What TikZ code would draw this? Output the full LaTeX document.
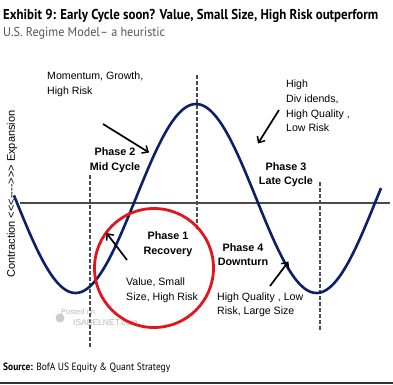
\documentclass[tikz,border=0pt]{standalone}
\usepackage{fontspec}
\setmainfont{Liberation Sans}
\newfontfamily\ttlfont{PT Sans}
\usetikzlibrary{arrows.meta}
\definecolor{navy}{HTML}{0B1F6B}
\definecolor{cred}{HTML}{E4141C}
\definecolor{axisgray}{HTML}{4A4A4A}
\definecolor{subgray}{HTML}{555555}
\tikzset{
  lbl/.style={inner sep=0pt, align=left, font=\fontsize{10.6}{15}\selectfont},
  phase/.style={inner sep=0pt, align=center, font=\fontsize{10.8}{15}\selectfont\bfseries},
  pointer/.style={line width=1.7pt, -{Straight Barb[length=5pt,width=9pt,line width=1.5pt]}},
  guide/.style={axisgray, line width=1.3pt, dash pattern=on 3.5pt off 2.5pt},
  curvestyle/.style={navy, line width=2.6pt},
  wm/.style={inner sep=0pt, text=gray!55}
}
\begin{document}
\begin{tikzpicture}[x=1pt,y=-1pt]
\useasboundingbox (0,0) rectangle (393,384);
\fill[white] (0,0) rectangle (393,384);

% titles
\node[anchor=base west, inner sep=0pt] (title) at (3,19.3)
  {\resizebox{375pt}{\height}{\ttlfont\bfseries\fontsize{14.3}{16}\selectfont Exhibit 9: Early Cycle soon? Value, Small Size, High Risk outperform}};
\node[anchor=base west, inner sep=0pt, text=subgray] (subtitle) at (3,36)
  {\resizebox{162pt}{\height}{\ttlfont\fontsize{12.8}{14}\selectfont U.S. Regime Model– a heuristic}};

% axis and guides
\coordinate (axL) at (20,203);
\coordinate (axR) at (390,203);
\draw[axisgray, line width=1.2pt] (axL) -- (axR);
\coordinate (g1t) at (90,175);  \coordinate (g1b) at (90,347);
\coordinate (g2t) at (197,75);  \coordinate (g2b) at (197,230);
\coordinate (g3t) at (320,182); \coordinate (g3b) at (320,330);
\draw[guide] (g1t) -- (g1b);
\draw[guide] (g2t) -- (g2b);
\draw[guide] (g3t) -- (g3b);

% watermark
\node[wm, anchor=base west, font=\fontsize{7.5}{9}\selectfont] (posted) at (61,314) {Posted on};
\node[wm, anchor=base west, font=\fontsize{8.5}{10}\selectfont] (isabel) at (73,325.5) {ISABELNET.com};
\fill[gray!40] (60,318) circle (4.5);

% cycle curve
\draw[curvestyle] plot[domain=14:381, samples=150, smooth] (\x, {198.5-94.5*cos((\x-196)/241*360)});

% red circle
\node[draw=cred, line width=2.8pt, circle, minimum size=119pt, inner sep=0pt] (ring) at (154,268) {};

% y label
\node[rotate=90, inner sep=0pt, font=\fontsize{11}{13}\selectfont] (ylab) at (12,194)
  {Contraction <\kern0pt<\kern0pt<\kern0pt-\kern0pt-\kern0pt-\kern0pt-\kern0pt>\kern0pt>\kern0pt> Expansion};

% labels
\node[lbl, anchor=west] (mom) at (47,84) {Momentum, Growth,\\High Risk};
\node[lbl, anchor=west, font=\fontsize{10.6}{14.7}\selectfont] (hdiv) at (286,106) {High\\Div idends,\\High Quality ,\\Low Risk};
\node[phase] (p2) at (115,160.5) {Phase 2\\Mid Cycle};
\node[phase, font=\fontsize{10.8}{14}\selectfont\bfseries] (p3) at (286,175) {Phase 3\\Late Cycle};
\node[phase] (p1) at (168,244.5) {Phase 1\\Recovery};
\node[lbl, anchor=west] (val) at (126,290.5) {Value, Small\\Size, High Risk};
\node[phase, font=\fontsize{10.8}{14}\selectfont\bfseries] (p4) at (243,255) {Phase 4\\Downturn};
\node[lbl, anchor=west, font=\fontsize{10.6}{14}\selectfont] (hq) at (217,305) {High Quality , Low\\Risk, Large Size};

% pointers
\coordinate (a2s) at (103,124); \coordinate (a2e) at (149,152.5);
\coordinate (a3s) at (279,110); \coordinate (a3e) at (258,143.5);
\coordinate (a1s) at (127,260); \coordinate (a1e) at (106.5,233);
\coordinate (a4s) at (270,286); \coordinate (a4e) at (288.5,261.5);
\draw[pointer] (a2s) -- (a2e);
\draw[pointer] (a3s) -- (a3e);
\draw[pointer] (a1s) -- (a1e);
\draw[pointer] (a4s) -- (a4e);

% source
\node[anchor=base west, inner sep=0pt] (source) at (3,370)
  {\resizebox{167pt}{\height}{\ttlfont\fontsize{10.5}{12}\selectfont\textbf{Source:} BofA US Equity \& Quant Strategy}};
\coordinate (bl) at (0,382.8);
\coordinate (br) at (393,382.8);
\draw[black!80, line width=1.6pt] (bl) -- (br);
\end{tikzpicture}
\end{document}
